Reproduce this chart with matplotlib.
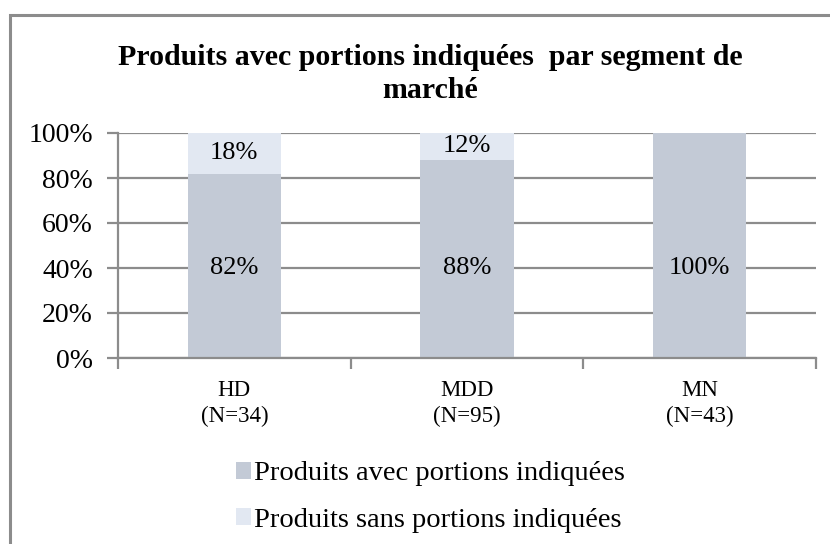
import numpy as np
import matplotlib.pyplot as plt
from matplotlib.patches import Rectangle

plt.rcParams['font.family'] = ['Liberation Serif', 'DejaVu Serif']

segments = ["HD\n(N=34)", "MDD\n(N=95)", "MN\n(N=43)"]
avec = [82, 88, 100]
sans = [18, 12, 0]
series_names = ["Produits avec portions indiquées", "Produits sans portions indiquées"]
title = "Produits avec portions indiquées  par segment de\nmarché"

c_avec = "#c3cad6"
c_sans = "#e2e8f2"
grey = "#8c8c8c"

fig = plt.figure(figsize=(8.3, 5.44), dpi=100)
fig.patches.append(Rectangle((9.5 / 830, -0.1), 2, 1.1 - 15 / 544, transform=fig.transFigure,
                             fill=False, edgecolor=grey, lw=2.2))

ax = fig.add_axes([118 / 830, 1 - 358 / 544, (816 - 118) / 830, (358 - 133) / 544])
x = np.arange(len(segments))
w = 0.4
ax.bar(x, avec, w, color=c_avec, label=series_names[0], zorder=2)
ax.bar(x, sans, w, bottom=avec, color=c_sans, label=series_names[1], zorder=2)

for i in range(len(segments)):
    ax.text(x[i], 40, f"{avec[i]}%", ha="center", va="center", fontsize=19, zorder=3)
    if sans[i] > 0:
        ax.text(x[i], avec[i] + sans[i] / 2, f"{sans[i]}%", ha="center", va="center",
                fontsize=19, zorder=3)

ax.set_xlim(-0.5, len(segments) - 0.5)
ax.set_ylim(0, 100)
ax.set_yticks(np.arange(0, 101, 20))
ax.set_yticklabels([f"{v}%" for v in range(0, 101, 20)], fontsize=20)
ax.yaxis.grid(True, color=grey, lw=1.6, zorder=0)
ax.set_axisbelow(True)

ax.set_xticks(x)
ax.set_xticklabels(segments, fontsize=16.5, linespacing=1.3)
ax.tick_params(axis="x", length=0, pad=16)
ax.set_xticks(np.arange(-0.5, len(segments)), minor=True)
ax.tick_params(axis="x", which="minor", length=8, color=grey, width=1.6)
ax.tick_params(axis="y", length=8, color=grey, width=1.6, pad=10)

for s in ["top", "right"]:
    ax.spines[s].set_visible(False)
for s in ["left", "bottom"]:
    ax.spines[s].set_color(grey)
    ax.spines[s].set_linewidth(1.6)

fig.text(430 / 830, 1 - 74 / 544, title, ha="center", va="center", fontsize=21.5,
         fontweight="bold", linespacing=1.3)

handles, labels = ax.get_legend_handles_labels()
fig.legend(handles, labels, loc="center left", bbox_to_anchor=(210 / 830, 1 - 497 / 544),
           frameon=False, fontsize=20.5, handlelength=0.55, handleheight=0.55,
           handletextpad=0.1, labelspacing=0.75)

fig.savefig("out.png", dpi=100)
